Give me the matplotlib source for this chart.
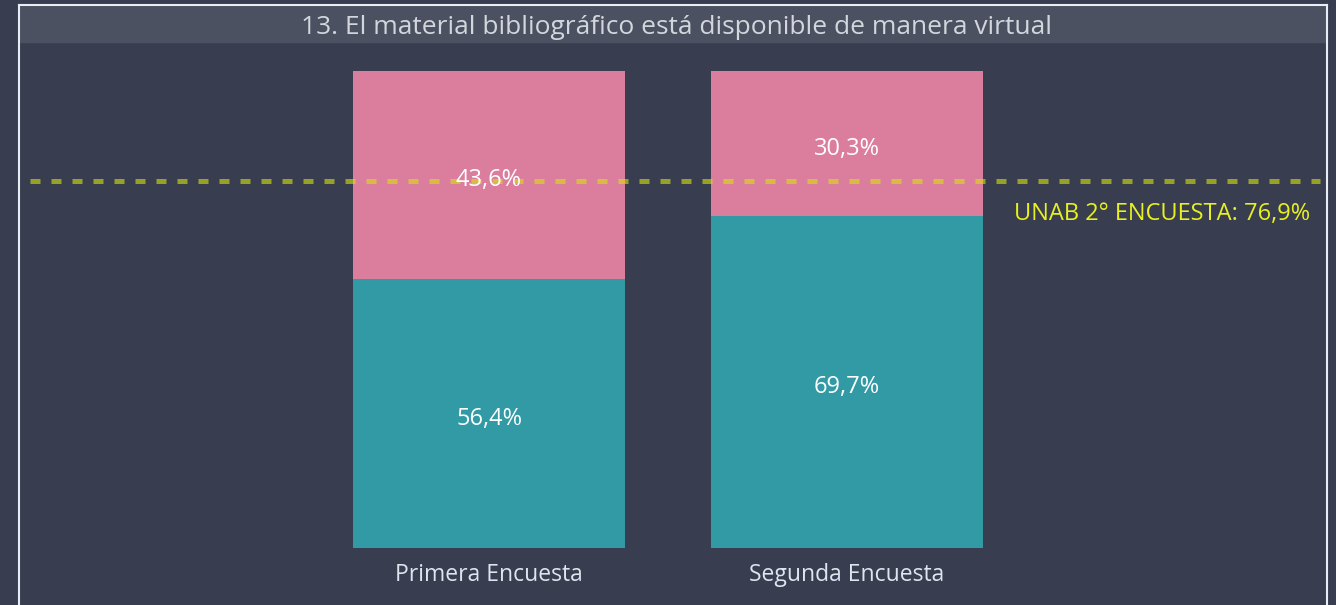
import matplotlib.pyplot as plt
from matplotlib.patches import Rectangle
from matplotlib.lines import Line2D

# data
categories = ['Primera Encuesta', 'Segunda Encuesta']
bottom_vals = [56.4, 69.7]
top_vals = [43.6, 30.3]
ref_value = 76.9
ref_label = 'UNAB 2° ENCUESTA: 76,9%'
title = '13. El material bibliográfico está disponible de manera virtual'

bg = '#383e50'
teal = '#319aa5'
pink = '#db7d9d'

plt.rcParams['font.family'] = ['Open Sans', 'DejaVu Sans']

W, H = 1336, 605
fig = plt.figure(figsize=(W / 100, H / 100), dpi=100, facecolor=bg)


def fx(px):
    return px / W


def fy(py):
    return 1 - py / H


# frame and title bar
fig.patches.append(Rectangle((fx(20), fy(42)), fx(1306), (42 - 6) / H,
                             transform=fig.transFigure, color='#4b5161', zorder=0))
for xs, ys in [([19, 19], [5, 605]), ([19, 1327], [5, 5]), ([1327, 1327], [5, 605])]:
    fig.lines.append(Line2D([fx(v) for v in xs], [fy(v) for v in ys],
                            transform=fig.transFigure, color='#e8eef6', lw=1.5))
fig.text(fx(676), fy(27), title, ha='center', va='center',
         fontsize=19, color='#d3d6dc')

# main axes: y=0 at px 548, y=100 at px 71
ax = fig.add_axes([fx(20), fy(548), fx(1306), (548 - 71) / H])
ax.set_facecolor('none')
x = [0, 1]
ax.bar(x, bottom_vals, width=0.76, color=teal, zorder=2)
ax.bar(x, top_vals, width=0.76, bottom=bottom_vals, color=pink, zorder=2)
ax.set_ylim(0, 100)
ax.set_xlim((20 - 489) / 358, (1326 - 489) / 358)

off = 1.1  # nudge labels down a few pixels
for i in x:
    ax.text(i, bottom_vals[i] / 2 - off, f'{bottom_vals[i]:.1f}%'.replace('.', ','),
            ha='center', va='center', color='white', fontsize=17, zorder=5)
    ax.text(i, bottom_vals[i] + top_vals[i] / 2 - off, f'{top_vals[i]:.1f}%'.replace('.', ','),
            ha='center', va='center', color='white', fontsize=17, zorder=5)

ax.axhline(ref_value, xmin=10 / 1306, xmax=1300 / 1306, color='#d8e40a', alpha=0.6,
           lw=3.6, linestyle=(0, (2, 2.2)), dash_capstyle='butt', zorder=3)
ax.text((1310 - 489) / 358, ref_value - 4.3, ref_label, ha='right', va='top',
        color='#e8f020', fontsize=17, zorder=5)

ax.set_xticks(x)
ax.set_xticklabels(categories, fontsize=16.5, color='#dde5ef')
ax.tick_params(axis='x', length=0, pad=11)
ax.set_yticks([])
for s in ax.spines.values():
    s.set_visible(False)

fig.savefig('out.png', dpi=100, facecolor=bg)
